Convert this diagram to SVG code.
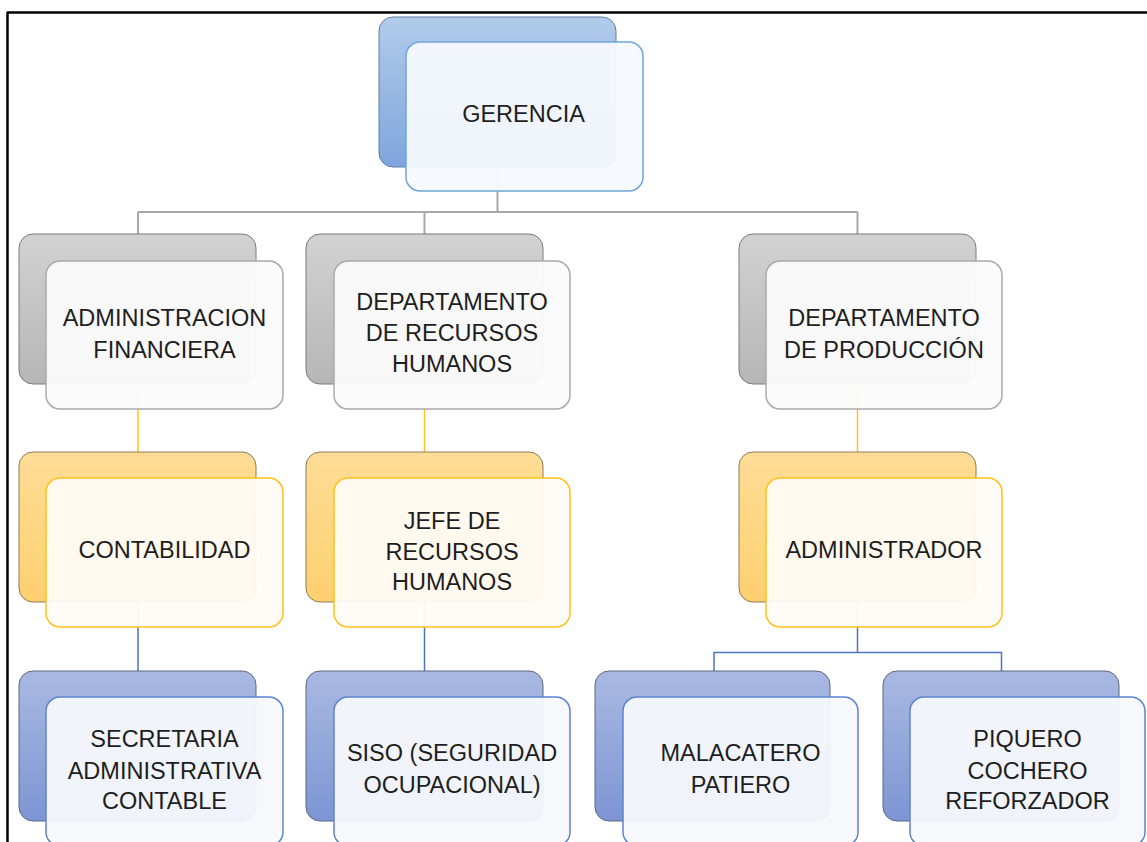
<svg xmlns="http://www.w3.org/2000/svg" width="1147" height="842" viewBox="0 0 1147 842">
<defs>
<linearGradient id="gBlue" x1="0" y1="0" x2="0" y2="1"><stop offset="0" stop-color="#b2cbea"/><stop offset="1" stop-color="#7ea5dc"/></linearGradient>
<linearGradient id="gGray" x1="0" y1="0" x2="0" y2="1"><stop offset="0" stop-color="#d2d2d2"/><stop offset="1" stop-color="#b6b6b6"/></linearGradient>
<linearGradient id="gGold" x1="0" y1="0" x2="0" y2="1"><stop offset="0" stop-color="#ffdc96"/><stop offset="1" stop-color="#fdd06f"/></linearGradient>
<linearGradient id="gInd" x1="0" y1="0" x2="0" y2="1"><stop offset="0" stop-color="#a9b9e2"/><stop offset="1" stop-color="#7c95d3"/></linearGradient>
</defs>
<style>
.back{stroke-width:1}
.front{stroke-width:1.5}
.blue .back{fill:url(#gBlue);stroke:#5f7fa8}
.blue .front{fill:#f6f9fd;fill-opacity:0.95;stroke:#6fa5dc}
.gray .back{fill:url(#gGray);stroke:#7a7a7a}
.gray .front{fill:#fbfbfb;fill-opacity:0.95;stroke:#a9a9a9}
.gold .back{fill:url(#gGold);stroke:#8c7a55}
.gold .front{fill:#fffbf6;fill-opacity:0.95;stroke:#ffc21a}
.ind .back{fill:url(#gInd);stroke:#5b6784}
.ind .front{fill:#f7f8fc;fill-opacity:0.95;stroke:#5c84d0}
text{font-family:"Liberation Sans",Arial,sans-serif;font-size:23.5px;fill:#1e1e1e;text-anchor:middle}
.cg{stroke:#a8a8a8;stroke-width:2;fill:none}
.cy{stroke:#ffc21a;stroke-width:1.5;fill:none}
.cb{stroke:#4a76c8;stroke-width:1.5;fill:none}
</style>
<rect x="0" y="0" width="1147" height="842" fill="#fff"/>
<g id="frame" stroke="#000" stroke-width="2.5" fill="none">
<line x1="7" y1="12.5" x2="1147" y2="12.5"/>
<line x1="7.5" y1="12" x2="7.5" y2="842"/>
</g>
<g id="connectors">
<path class="cg" d="M497.5 166 V212 M138 212 H857.5 M138 212 V234 M424.5 212 V234 M857.5 212 V234"/>
<path class="cy" d="M138 384 V452 M424.5 384 V452 M857.5 384 V452"/>
<path class="cb" d="M138 602 V671 M424.5 602 V671 M857.5 602 V652.5 H714 V671 M857.5 652.5 H1001.5 V671"/>
</g>
<g id="gerencia" class="blue">
<rect class="back" x="379" y="17" width="237" height="150" rx="14"/>
<rect class="front" x="406" y="42" width="237" height="149" rx="14"/>
<text x="523.5" y="122">GERENCIA</text>
</g>
<g id="admin-financiera" class="gray">
<rect class="back" x="19" y="234" width="237" height="150" rx="14"/>
<rect class="front" x="46" y="261" width="237" height="148" rx="14"/>
<text x="164.5" y="326">ADMINISTRACION</text>
<text x="164.5" y="358">FINANCIERA</text>
</g>
<g id="dep-rrhh" class="gray">
<rect class="back" x="306" y="234" width="237" height="150" rx="14"/>
<rect class="front" x="334" y="261" width="236" height="148" rx="14"/>
<text x="452" y="310">DEPARTAMENTO</text>
<text x="452" y="341">DE RECURSOS</text>
<text x="452" y="372">HUMANOS</text>
</g>
<g id="dep-produccion" class="gray">
<rect class="back" x="739" y="234" width="237" height="150" rx="14"/>
<rect class="front" x="766" y="261" width="236" height="148" rx="14"/>
<text x="884" y="326">DEPARTAMENTO</text>
<text x="884" y="358">DE PRODUCCIÓN</text>
</g>
<g id="contabilidad" class="gold">
<rect class="back" x="19" y="452" width="237" height="150" rx="14"/>
<rect class="front" x="46" y="478" width="237" height="149" rx="14"/>
<text x="164.5" y="558">CONTABILIDAD</text>
</g>
<g id="jefe-rrhh" class="gold">
<rect class="back" x="306" y="452" width="237" height="150" rx="14"/>
<rect class="front" x="334" y="478" width="236" height="149" rx="14"/>
<text x="452" y="529">JEFE DE</text>
<text x="452" y="560">RECURSOS</text>
<text x="452" y="590">HUMANOS</text>
</g>
<g id="administrador" class="gold">
<rect class="back" x="739" y="452" width="237" height="150" rx="14"/>
<rect class="front" x="766" y="478" width="236" height="149" rx="14"/>
<text x="884" y="558">ADMINISTRADOR</text>
</g>
<g id="secretaria" class="ind">
<rect class="back" x="19" y="671" width="237" height="150" rx="14"/>
<rect class="front" x="46" y="697" width="237" height="149" rx="14"/>
<text x="164.5" y="747">SECRETARIA</text>
<text x="164.5" y="779">ADMINISTRATIVA</text>
<text x="164.5" y="809">CONTABLE</text>
</g>
<g id="siso" class="ind">
<rect class="back" x="306" y="671" width="237" height="150" rx="14"/>
<rect class="front" x="334" y="697" width="236" height="149" rx="14"/>
<text x="452" y="761">SISO (SEGURIDAD</text>
<text x="452" y="793">OCUPACIONAL)</text>
</g>
<g id="malacatero" class="ind">
<rect class="back" x="595" y="671" width="235" height="150" rx="14"/>
<rect class="front" x="623" y="697" width="235" height="149" rx="14"/>
<text x="740.5" y="761">MALACATERO</text>
<text x="740.5" y="793">PATIERO</text>
</g>
<g id="piquero" class="ind">
<rect class="back" x="883" y="671" width="236" height="150" rx="14"/>
<rect class="front" x="910" y="697" width="235" height="149" rx="14"/>
<text x="1027.5" y="747">PIQUERO</text>
<text x="1027.5" y="779">COCHERO</text>
<text x="1027.5" y="809">REFORZADOR</text>
</g>
</svg>
